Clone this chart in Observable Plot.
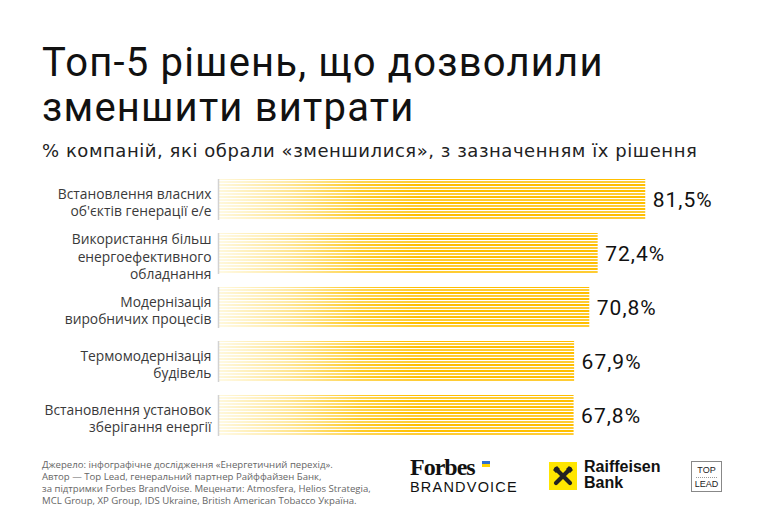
<!DOCTYPE html>
<html>
<head>
<meta charset="utf-8">
<script src="https://cdn.jsdelivr.net/npm/d3@7"></script>
<script src="https://cdn.jsdelivr.net/npm/@observablehq/plot@0.6"></script>
<style>
  html, body { margin: 0; padding: 0; background: #fff; }
  #wrap { position: relative; width: 764px; height: 525px; overflow: hidden; font-family: "Noto Sans", sans-serif; }
  #title { position: absolute; left: 42px; top: 40px; font-family: Roboto, sans-serif; font-weight: 400; font-size: 40px; line-height: 45px; color: #111; letter-spacing: 1.2px; white-space: nowrap; }
  #subtitle { position: absolute; left: 42px; top: 141px; font-family: "DejaVu Sans", sans-serif; font-size: 18px; line-height: 20px; letter-spacing: 0.55px; color: #222; white-space: nowrap; }
  #chart { position: absolute; left: 0; top: 160px; }
  #source { position: absolute; left: 42px; top: 459px; font-family: "Open Sans", sans-serif; font-size: 9.6px; line-height: 12px; color: #666; white-space: nowrap; }
  .logo { position: absolute; }
</style>
</head>
<body>
<div id="wrap">
  <div id="title">Топ-5 рішень, що дозволили<br>зменшити витрати</div>
  <div id="subtitle">% компаній, які обрали «зменшилися», з зазначенням їх рішення</div>
  <div id="chart"></div>
  <div id="source">Джерело: інфографічне дослідження «Енергетичний перехід».<br>Автор — Top Lead, генеральний партнер Райффайзен Банк,<br>за підтримки Forbes BrandVoise. Меценати: Atmosfera, Helios Strategia,<br>MCL Group, XP Group, IDS Ukraine, British American Tobacco Україна.</div>

  <div class="logo" style="left:410px; top:454px; width:120px; height:40px;">
    <div style="position:absolute; left:0; top:0; font-family:'Liberation Serif', serif; font-weight:bold; font-size:24px; letter-spacing:-1px; color:#111;">Forbes</div>
    <div style="position:absolute; left:72px; top:7px; width:8px; height:3px; background:#2f6fd0;"></div>
    <div style="position:absolute; left:72px; top:10px; width:8px; height:3px; background:#ffd400;"></div>
    <div style="position:absolute; left:0; top:25px; font-family:'Liberation Sans', sans-serif; font-size:14.5px; letter-spacing:1.2px; color:#111;">BRANDVOICE</div>
  </div>

  <div class="logo" style="left:549px; top:462px;">
    <svg width="28" height="28" viewBox="0 0 28 28">
      <rect width="28" height="28" fill="#ffe600"/>
      <path d="M7 21 L21 7 M7 7 L21 21" stroke="#222" stroke-width="4.2" stroke-linecap="round"/>
      <path d="M4 8 L8 4 L11 7 L7 11 Z M24 8 L20 4 L17 7 L21 11 Z" fill="#222"/>
    </svg>
  </div>
  <div class="logo" style="left:584px; top:459px; font-family:'Liberation Sans', sans-serif; font-weight:bold; font-size:16px; line-height:16px; color:#111;">Raiffeisen<br>Bank</div>

  <div class="logo" style="left:691px; top:461px; width:29px; height:29px; border:1px solid #888; font-family:'Liberation Sans', sans-serif; font-size:9px; color:#222; text-align:center;">
    <div style="margin-top:4px; line-height:9px;">TOP</div>
    <div style="margin:2px 4px 0; border-top:1px dotted #999;"></div>
    <div style="margin-top:2px; line-height:9px;">LEAD</div>
  </div>
</div>
<script>
const categories = [
  "Встановлення власних\nоб'єктів генерації е/е",
  "Використання більш\nенергоефективного\nобладнання",
  "Модернізація\nвиробничих процесів",
  "Термомодернізація\nбудівель",
  "Встановлення установок\nзберігання енергії"
];
const values = [81.5, 72.4, 70.8, 67.9, 67.8];
const valueLabels = ["81,5%", "72,4%", "70,8%", "67,9%", "67,8%"];

const data = categories.map((c, i) => ({cat: c, value: values[i], label: valueLabels[i]}));

const W = 764, H = 295;
const plot = Plot.plot({
  width: W,
  height: H,
  marginLeft: 219,
  marginRight: 22,
  marginTop: 4,
  marginBottom: 4,
  style: {background: "transparent", overflow: "visible"},
  x: {domain: [0, 100], axis: null},
  y: {domain: categories, axis: null, padding: 0.234},
  marks: [
    Plot.barX(data, {x: "value", y: "cat", fill: "url(#barGrad)"}),
    Plot.tickX(data, {x: 0, y: "cat", stroke: "#d2d2d2", strokeWidth: 1.5, dx: -1}),
    Plot.text(data, {x: 0, y: "cat", text: "cat", textAnchor: "end", dx: -8, dy: 2, fontSize: 13.8, lineHeight: 1.26, fill: "#3a3a3a", fontFamily: "Open Sans"}),
    Plot.text(data, {x: "value", y: "cat", text: "label", textAnchor: "start", dx: 7, fontSize: 21, fill: "#111", fontFamily: "Roboto", fontWeight: 400})
  ]
});

const ns = "http://www.w3.org/2000/svg";
const defs = document.createElementNS(ns, "defs");
defs.innerHTML = `
  <linearGradient id="barGrad" gradientUnits="userSpaceOnUse" x1="219" y1="0" x2="420" y2="0">
    <stop offset="0" stop-color="#fff8dc"/>
    <stop offset="0.35" stop-color="#ffe591"/>
    <stop offset="0.7" stop-color="#ffcb28"/>
    <stop offset="1" stop-color="#ffbf00"/>
  </linearGradient>
  <pattern id="stripes" patternUnits="userSpaceOnUse" x="0" y="0" width="10" height="6">
    <rect x="0" y="0" width="10" height="2" fill="#fff"/>
    <rect x="0" y="3" width="10" height="2" fill="#fff" fill-opacity="0.8"/>
  </pattern>
  <mask id="stripeMask" maskUnits="userSpaceOnUse" x="0" y="0" width="${W}" height="${H}">
    <rect x="0" y="0" width="${W}" height="${H}" fill="url(#stripes)"/>
  </mask>`;
plot.insertBefore(defs, plot.firstChild);
const barG = plot.querySelector('g[aria-label="bar"]');
if (barG) barG.setAttribute("mask", "url(#stripeMask)");
const valG = plot.querySelectorAll('g[aria-label="text"]')[1];
if (valG) valG.setAttribute("letter-spacing", "1");

document.getElementById("chart").appendChild(plot);
</script>
</body>
</html>
